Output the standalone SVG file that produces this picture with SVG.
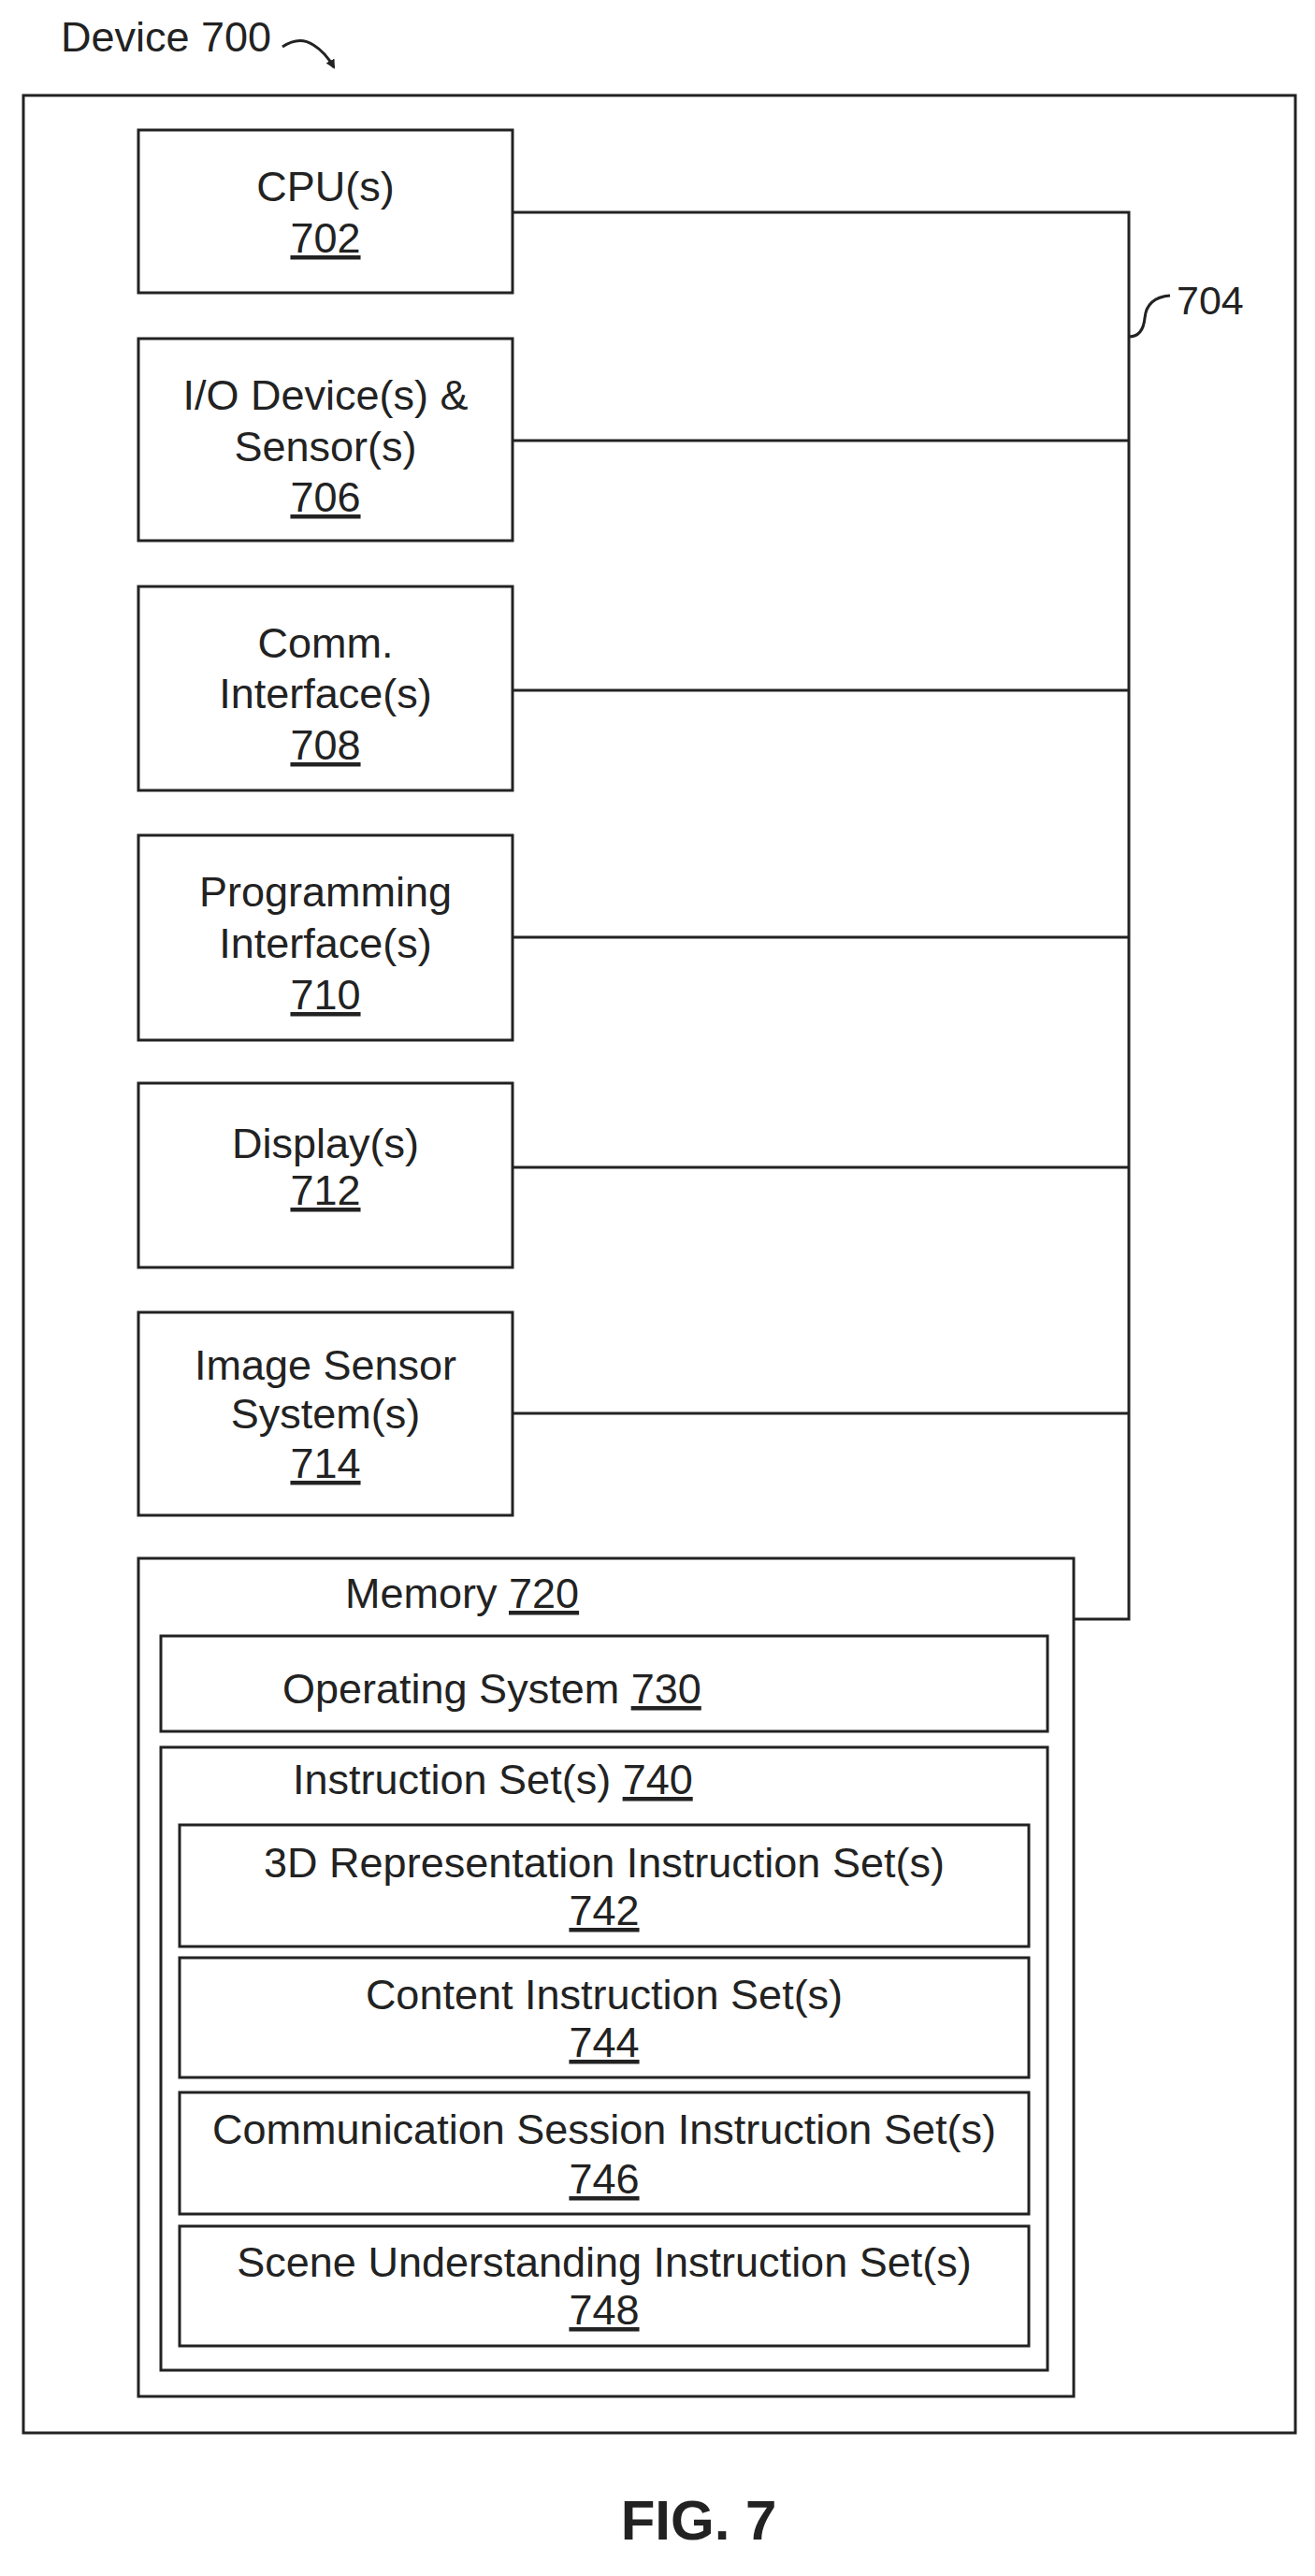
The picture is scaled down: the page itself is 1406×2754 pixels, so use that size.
<svg xmlns="http://www.w3.org/2000/svg" width="1406" height="2754" viewBox="0 0 1406 2754">
<style>
rect{fill:none;stroke:#222;stroke-width:3}
.c{fill:none;stroke:#222;stroke-width:3}
text{font-family:"Liberation Sans",Arial,sans-serif;font-size:45px;fill:#222}
.m{text-anchor:middle}
.u{text-decoration:underline}
</style>
<defs><marker id="ah" markerWidth="10" markerHeight="10" refX="8" refY="5" orient="auto" markerUnits="userSpaceOnUse"><path d="M0,0 L10,5 L0,10 z" fill="#222"/></marker></defs>
<rect x="0" y="0" width="1406" height="2754" style="fill:#fff;stroke:none"/>
<text x="65" y="55">Device 700</text>
<path class="c" d="M302,50 Q320,38 335,48 Q348,56 357,72" marker-end="url(#ah)"/>
<rect x="25" y="102" width="1360" height="2499"/>
<g id="connectors">
<path class="c" d="M548,227 H1207 V1731 H1148"/>
<path class="c" d="M548,471 H1207 M548,738 H1207 M548,1002 H1207 M548,1248 H1207 M548,1511 H1207"/>
<path class="c" d="M1207,360 Q1222,360 1224,340 Q1226,318 1251,316"/>
<text x="1258" y="336" style="font-size:43px">704</text>
</g>
<g id="n702"><rect x="148" y="139" width="400" height="174"/><text class="m" x="348" y="215">CPU(s)</text><text class="m u" x="348" y="270">702</text></g>
<g id="n706"><rect x="148" y="362" width="400" height="216"/><text class="m" x="348" y="438">I/O Device(s) &amp;</text><text class="m" x="348" y="493">Sensor(s)</text><text class="m u" x="348" y="547">706</text></g>
<g id="n708"><rect x="148" y="627" width="400" height="218"/><text class="m" x="348" y="703">Comm.</text><text class="m" x="348" y="757">Interface(s)</text><text class="m u" x="348" y="812">708</text></g>
<g id="n710"><rect x="148" y="893" width="400" height="219"/><text class="m" x="348" y="969">Programming</text><text class="m" x="348" y="1024">Interface(s)</text><text class="m u" x="348" y="1079">710</text></g>
<g id="n712"><rect x="148" y="1158" width="400" height="197"/><text class="m" x="348" y="1238">Display(s)</text><text class="m u" x="348" y="1288">712</text></g>
<g id="n714"><rect x="148" y="1403" width="400" height="217"/><text class="m" x="348" y="1475">Image Sensor</text><text class="m" x="348" y="1527">System(s)</text><text class="m u" x="348" y="1580">714</text></g>
<g id="n720"><rect x="148" y="1666" width="1000" height="896"/><text x="369" y="1719">Memory <tspan class="u">720</tspan></text></g>
<g id="n730"><rect x="172" y="1749" width="948" height="102"/><text x="302" y="1821">Operating System <tspan class="u">730</tspan></text></g>
<g id="n740"><rect x="172" y="1868" width="948" height="666"/><text x="313" y="1918">Instruction Set(s) <tspan class="u">740</tspan></text></g>
<g id="n742"><rect x="192" y="1951" width="908" height="130"/><text class="m" x="646" y="2007">3D Representation Instruction Set(s)</text><text class="m u" x="646" y="2058">742</text></g>
<g id="n744"><rect x="192" y="2093" width="908" height="128"/><text class="m" x="646" y="2148">Content Instruction Set(s)</text><text class="m u" x="646" y="2199">744</text></g>
<g id="n746"><rect x="192" y="2237" width="908" height="130"/><text class="m" x="646" y="2292">Communication Session Instruction Set(s)</text><text class="m u" x="646" y="2345">746</text></g>
<g id="n748"><rect x="192" y="2380" width="908" height="128"/><text class="m" x="646" y="2434">Scene Understanding Instruction Set(s)</text><text class="m u" x="646" y="2485">748</text></g>
<text class="m" x="747" y="2715" style="font-size:60px;font-weight:bold">FIG. 7</text>
</svg>
